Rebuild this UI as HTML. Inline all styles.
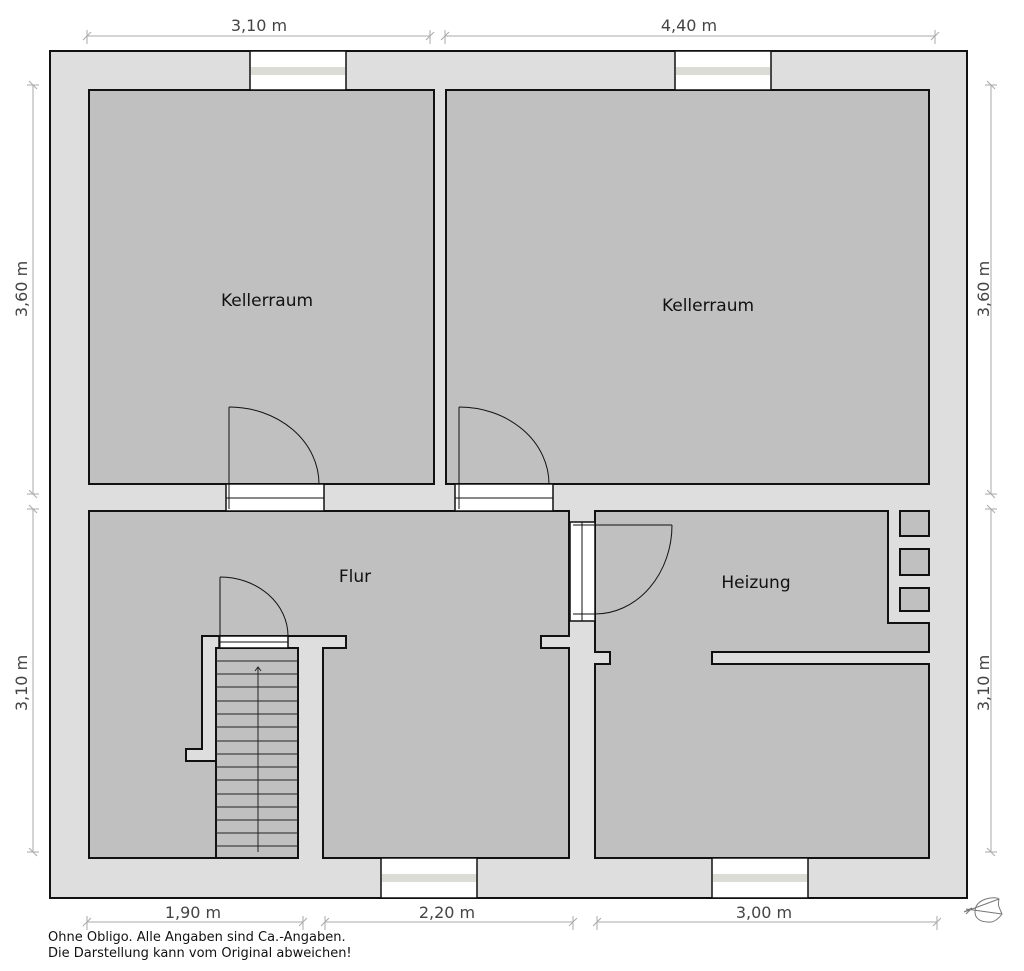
<!DOCTYPE html>
<html><head><meta charset="utf-8"><style>
html,body{margin:0;padding:0;background:#fff;}
svg{display:block;}
text{font-family:"DejaVu Sans","Liberation Sans",sans-serif;}
</style></head><body>
<svg width="1024" height="971" viewBox="0 0 1024 971" xmlns="http://www.w3.org/2000/svg">
<rect x="50" y="51" width="917" height="847" fill="#dedede" stroke="#111" stroke-width="2"/>
<g fill="#c0c0c0" stroke="#111" stroke-width="2">
<rect x="89" y="90" width="345" height="394"/>
<rect x="446" y="90" width="483" height="394"/>
<polygon points="89,511 569,511 569,636 541,636 541,648 569,648 569,858 323,858 323,648 346,648 346,636 202,636 202,749 186,749 186,761 216,761 216,858 89,858"/>
<polygon points="595,511 888,511 888,623 929,623 929,652 712,652 712,664 929,664 929,858 595,858 595,664 610,664 610,652 595,652"/>
<rect x="216" y="648" width="82" height="210"/>
<rect x="900" y="511" width="29" height="25"/>
<rect x="900" y="549" width="29" height="26"/>
<rect x="900" y="588" width="29" height="23"/>
</g>
<g stroke="#222" stroke-width="1">
<line x1="216" y1="661" x2="298" y2="661"/><line x1="216" y1="674" x2="298" y2="674"/>
<line x1="216" y1="687" x2="298" y2="687"/><line x1="216" y1="701" x2="298" y2="701"/>
<line x1="216" y1="714" x2="298" y2="714"/><line x1="216" y1="727" x2="298" y2="727"/>
<line x1="216" y1="741" x2="298" y2="741"/><line x1="216" y1="754" x2="298" y2="754"/>
<line x1="216" y1="767" x2="298" y2="767"/><line x1="216" y1="780" x2="298" y2="780"/>
<line x1="216" y1="794" x2="298" y2="794"/><line x1="216" y1="807" x2="298" y2="807"/>
<line x1="216" y1="820" x2="298" y2="820"/><line x1="216" y1="833" x2="298" y2="833"/>
<line x1="216" y1="846" x2="298" y2="846"/>
<line x1="258" y1="852" x2="258" y2="668"/>
<polyline points="255,671 258,667 261,671" fill="none"/>
</g>
<g stroke="#111" stroke-width="1.5" fill="#fff">
<rect x="250" y="51" width="96" height="39"/><rect x="675" y="51" width="96" height="39"/>
<rect x="381" y="858" width="96" height="40"/><rect x="712" y="858" width="96" height="40"/>
</g>
<g fill="#dcdcd6">
<rect x="251" y="67" width="94" height="8"/><rect x="676" y="67" width="94" height="8"/>
<rect x="382" y="874" width="94" height="8"/><rect x="713" y="874" width="94" height="8"/>
</g>
<g stroke="#111" stroke-width="1.5" fill="#fff">
<rect x="226" y="484" width="98" height="27"/><rect x="455" y="484" width="98" height="27"/>
<rect x="219" y="636" width="69" height="12"/><rect x="570" y="522" width="25" height="99"/>
</g>
<g stroke="#111" stroke-width="1" fill="none">
<line x1="226" y1="498" x2="324" y2="498"/><line x1="455" y1="498" x2="553" y2="498"/>
<line x1="229" y1="407" x2="229" y2="509"/><path d="M229,407 A90,77 0 0 1 319,484"/>
<line x1="459" y1="407" x2="459" y2="509"/><path d="M459,407 A90,77 0 0 1 549,484"/>
<line x1="220" y1="577" x2="220" y2="648"/><path d="M220,577 A68,59 0 0 1 288,636"/>
<line x1="219" y1="642" x2="288" y2="642"/>
<line x1="582" y1="522" x2="582" y2="621"/>
<line x1="573" y1="525" x2="672" y2="525"/><path d="M672,525 A77,89 0 0 1 595,614"/>
<line x1="573" y1="614" x2="595" y2="614"/>
</g>
<g font-size="17" fill="#111" text-anchor="middle">
<text x="267" y="306">Kellerraum</text>
<text x="708" y="311">Kellerraum</text>
<text x="355" y="582">Flur</text>
<text x="756" y="588">Heizung</text>
</g>
<g stroke="#aaa" stroke-width="1" fill="none">
<line x1="87" y1="36" x2="430" y2="36"/><line x1="445" y1="36" x2="935" y2="36"/>
<line x1="33" y1="85" x2="33" y2="494"/><line x1="33" y1="509" x2="33" y2="852"/>
<line x1="991" y1="85" x2="991" y2="494"/><line x1="991" y1="509" x2="991" y2="852"/>
<line x1="87" y1="922" x2="303" y2="922"/><line x1="325" y1="922" x2="573" y2="922"/><line x1="597" y1="922" x2="937" y2="922"/>
<path d="M83,40 L91,32 M87,30 V44 M426,40 L434,32 M430,30 V44 M441,40 L449,32 M445,30 V44 M931,40 L939,32 M935,30 V44"/>
<path d="M27,85 H39 M29,81 L37,89 M27,494 H39 M29,490 L37,498 M27,509 H39 M29,505 L37,513 M27,852 H39 M29,848 L37,856"/>
<path d="M985,85 H997 M987,81 L995,89 M985,494 H997 M987,490 L995,498 M985,509 H997 M987,505 L995,513 M985,852 H997 M987,848 L995,856"/>
<path d="M83,926 L91,918 M87,916 V930 M299,926 L307,918 M303,916 V930 M321,926 L329,918 M325,916 V930 M569,926 L577,918 M573,916 V930 M593,926 L601,918 M597,916 V930 M933,926 L941,918 M937,916 V930"/>
</g>
<g font-size="16" fill="#444" text-anchor="middle">
<text x="259" y="31">3,10 m</text>
<text x="689" y="31">4,40 m</text>
<text x="193" y="918">1,90 m</text>
<text x="447" y="918">2,20 m</text>
<text x="764" y="918">3,00 m</text>
<text transform="translate(27,289) rotate(-90)">3,60 m</text>
<text transform="translate(27,683) rotate(-90)">3,10 m</text>
<text transform="translate(989,289) rotate(-90)">3,60 m</text>
<text transform="translate(989,683) rotate(-90)">3,10 m</text>
</g>
<g font-size="13" fill="#111">
<text x="48" y="941">Ohne Obligo. Alle Angaben sind Ca.-Angaben.</text>
<text x="48" y="957">Die Darstellung kann vom Original abweichen!</text>
</g>
<g stroke="#777" stroke-width="1" fill="none">
<path d="M975,912 C975,898 995,896 999,899 C997,905 1000,909 1002,914 C999,918 994,923 988,922 C980,922 975,918 975,912 Z"/>
<path d="M964,912 L999,899 M966,909 L1002,914 M964,912 L972,908 L966,914"/>
</g>
</svg>
</body></html>
